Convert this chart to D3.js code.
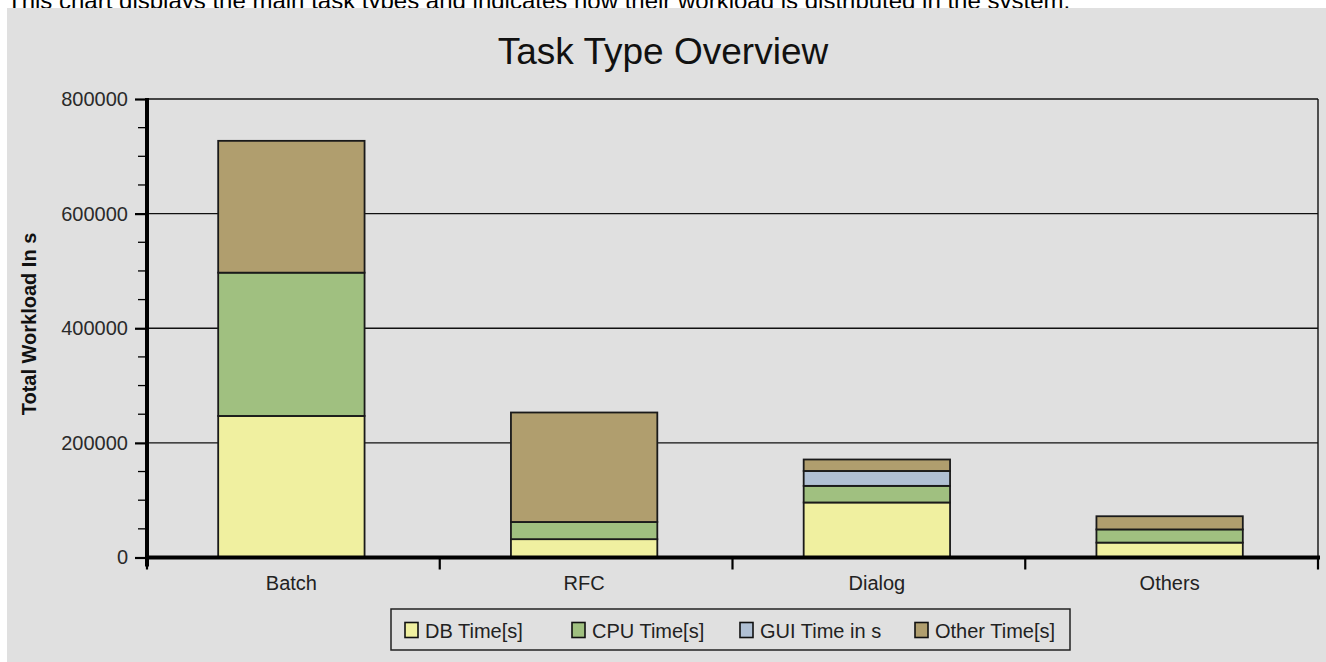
<!DOCTYPE html>
<html>
<head>
<meta charset="utf-8">
<script src="https://cdn.jsdelivr.net/npm/d3@7/dist/d3.min.js"></script>
<style>
  html, body { margin: 0; padding: 0; background: #ffffff; }
  svg { display: block; font-family: "Liberation Sans", Arial, sans-serif; }
</style>
</head>
<body>
<svg id="chart" width="1326" height="662"></svg>
<script>
// ---- data ----
const categories = ["Batch", "RFC", "Dialog", "Others"];
const seriesNames = ["DB Time[s]", "CPU Time[s]", "GUI Time in s", "Other Time[s]"];
const dbTime    = [247000, 32000, 96000, 26000];
const cpuTime   = [250000, 30000, 29000, 23000];
const guiTime   = [0,      0,     26000, 0];
const otherTime = [230000, 191000, 20000, 23000];
const yTicks = [0, 200000, 400000, 600000, 800000];
const captionText = "This chart displays the main task types and indicates how their workload is distributed in the system.";
const titleText = "Task Type Overview";
const yAxisTitle = "Total Workload In s";

const colors = ["#f0f0a0", "#a0c080", "#b0c0d4", "#b09e6e"];

// ---- layout ----
const W = 1326, H = 662;
const plot = { left: 147, right: 1318, top: 99, bottom: 557.5 };
const svg = d3.select("#chart");

// caption (partly hidden behind panel, as in reference)
svg.append("text").attr("x", 7).attr("y", 8.5)
  .attr("font-size", 24).attr("fill", "#000").text(captionText);

// gray panel
svg.append("rect").attr("x", 7).attr("y", 8).attr("width", W - 7).attr("height", H - 8)
  .attr("fill", "#e0e0e0");

// title
svg.append("text").attr("x", 663).attr("y", 64).attr("text-anchor", "middle")
  .attr("font-size", 37).attr("fill", "#111").text(titleText);

// scales
const x = d3.scaleBand().domain(categories).range([plot.left, plot.right])
  .paddingInner(0.5).paddingOuter(0.25);
const y = d3.scaleLinear().domain([0, 800000]).range([plot.bottom, plot.top]);

// gridlines
svg.append("g").selectAll("line").data(yTicks.filter(d => d > 0 && d < 800000)).join("line")
  .attr("x1", plot.left).attr("x2", plot.right)
  .attr("y1", d => y(d)).attr("y2", d => y(d))
  .attr("stroke", "#111").attr("stroke-width", 1.4);

// top & right frame
svg.append("line").attr("x1", plot.left).attr("x2", plot.right)
  .attr("y1", y(800000)).attr("y2", y(800000)).attr("stroke", "#111").attr("stroke-width", 1.4);
svg.append("line").attr("x1", plot.right).attr("x2", plot.right)
  .attr("y1", y(800000)).attr("y2", plot.bottom).attr("stroke", "#111").attr("stroke-width", 1.4);

// stacked bars
const rows = categories.map((c, i) => ({
  cat: c,
  [seriesNames[0]]: dbTime[i],
  [seriesNames[1]]: cpuTime[i],
  [seriesNames[2]]: guiTime[i],
  [seriesNames[3]]: otherTime[i]
}));
const stacked = d3.stack().keys(seriesNames)(rows);
svg.append("g").selectAll("g").data(stacked).join("g")
  .attr("fill", (d, i) => colors[i])
  .selectAll("rect").data(d => d.filter(s => s[1] > s[0])).join("rect")
  .attr("x", d => x(d.data.cat) - 2)
  .attr("width", x.bandwidth())
  .attr("y", d => y(d[1]))
  .attr("height", d => y(d[0]) - y(d[1]))
  .attr("stroke", "#1a1a1a").attr("stroke-width", 1.8);

// y axis
const yAxis = d3.axisLeft(y).tickValues(yTicks).tickFormat(d3.format("d")).tickSize(12).tickPadding(7);
const gy = svg.append("g").attr("transform", `translate(${plot.left},0)`).call(yAxis);
gy.select(".domain").remove();
gy.selectAll(".tick line").attr("stroke", "#000").attr("stroke-width", 2.2);
gy.selectAll(".tick text").attr("font-size", 20).attr("fill", "#2a2a2a")
  .attr("font-family", "Liberation Sans, Arial, sans-serif");
// minor ticks
const minor = d3.range(0, 800001, 50000).filter(v => !yTicks.includes(v));
svg.append("g").selectAll("line").data(minor).join("line")
  .attr("x1", plot.left - 9).attr("x2", plot.left)
  .attr("y1", d => y(d)).attr("y2", d => y(d))
  .attr("stroke", "#000").attr("stroke-width", 1.3);
// thick y axis line
svg.append("line").attr("x1", plot.left).attr("x2", plot.left)
  .attr("y1", y(800000) - 1).attr("y2", plot.bottom + 9)
  .attr("stroke", "#000").attr("stroke-width", 4);

// x axis
svg.append("line").attr("x1", plot.left - 2).attr("x2", plot.right + 2)
  .attr("y1", plot.bottom).attr("y2", plot.bottom)
  .attr("stroke", "#000").attr("stroke-width", 4);
const boundaries = d3.range(categories.length + 1).map(i => x.range()[0] + i * x.step());
svg.append("g").selectAll("line").data(boundaries).join("line")
  .attr("x1", d => d).attr("x2", d => d)
  .attr("y1", plot.bottom).attr("y2", plot.bottom + 12)
  .attr("stroke", "#000").attr("stroke-width", 2.2);
svg.append("g").selectAll("text").data(categories).join("text")
  .attr("x", d => x(d) + x.bandwidth() / 2 - 2)
  .attr("y", 590)
  .attr("text-anchor", "middle").attr("font-size", 20).attr("fill", "#222")
  .text(d => d);

// y axis title
svg.append("text").attr("transform", "translate(36,324) rotate(-90)")
  .attr("text-anchor", "middle").attr("font-size", 20).attr("font-weight", "bold")
  .attr("fill", "#111").text(yAxisTitle);

// legend
const legend = svg.append("g");
legend.append("rect").attr("x", 391).attr("y", 609).attr("width", 679).attr("height", 41)
  .attr("fill", "none").attr("stroke", "#222").attr("stroke-width", 1.5);
const legendX = [405, 572, 740, 915];
const items = legend.selectAll("g.item").data(seriesNames).join("g").attr("class", "item")
  .attr("transform", (d, i) => `translate(${legendX[i]},0)`);
items.append("rect").attr("x", 0).attr("y", 622.5).attr("width", 13).attr("height", 15)
  .attr("fill", (d, i) => colors[i]).attr("stroke", "#111").attr("stroke-width", 1.6);
items.append("text").attr("x", 20).attr("y", 637.5).attr("font-size", 20).attr("fill", "#222")
  .text(d => d);
</script>
</body>
</html>
